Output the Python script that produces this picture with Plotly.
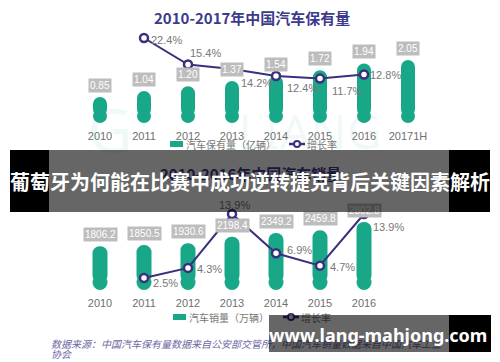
import plotly.graph_objects as go

W, H = 500, 362

# ---------------- data ----------------
years_top = ["2010", "2011", "2012", "2013", "2014", "2015", "2016", "20171H"]
stock = [0.85, 1.04, 1.20, 1.37, 1.54, 1.72, 1.94, 2.05]
stock_labels = ["0.85", "1.04", "1.20", "1.37", "1.54", "1.72", "1.94", "2.05"]
stock_growth_years = ["2011", "2012", "2013", "2014", "2015", "2016"]
stock_growth = [22.4, 15.4, 14.2, 12.4, 11.7, 12.8]

years_bot = ["2010", "2011", "2012", "2013", "2014", "2015", "2016"]
sales = [1806.2, 1850.5, 1930.6, 2198.4, 2349.2, 2459.8, 2802.8]
sales_labels = ["1806.2", "1850.5", "1930.6", "2198.4", "2349.2", "2459.8", "2802.8"]
sales_growth_years = ["2011", "2012", "2013", "2014", "2015", "2016"]
sales_growth = [2.5, 4.3, 13.9, 6.9, 4.7, 13.9]

title_top = "2010-2017年中国汽车保有量"
title_bot = "2010-2016年中国汽车销量"
legend_top = ["汽车保有量（亿辆）", "增长率"]
legend_bot = ["汽车销量（万辆）", "增长率"]
source_line1 = "数据来源：中国汽车保有量数据来自公安部交管所，中国汽车销量数据来自中国汽车工业"
source_line2 = "协会"
banner_text = "葡萄牙为何能在比赛中成功逆转捷克背后关键因素解析"
site_text = "www.lang-mahjong.com"
watermark = ["G", "LIANG"]

# ---------------- style ----------------
GREEN = "#19a887"
PURPLE = "#3b2f80"
LBLBOX = "#bdbdbd"
GRAYTXT = "#777777"
FONT = "Arial, Liberation Sans, Noto Sans CJK SC, sans-serif"
CJK = "Noto Sans CJK SC, sans-serif"


def px(x):
    return x / W


def py(y):
    return 1 - y / H


# top panel geometry (pixels)
T_BASE, T_TOP = 123, 30
T_SCALE = 30.7          # px per unit (bars)
T_GSCALE = 3.795        # px per % (line)
T_BARW = 14
# bottom panel geometry
B_BASE, B_TOP = 290, 205
B_SCALE = 0.02426
B_GSCALE = 5.61
B_GZERO = 292
B_BARW = 15
CAT_PX = 44.0

fig = go.Figure()

# ---- top bars (pill shaped: rounded top via cornerradius + round cap at base) ----
t_b0 = (T_BARW / 2) / T_SCALE
fig.add_trace(go.Bar(
    x=years_top, y=[v - t_b0 for v in stock], base=t_b0,
    width=T_BARW / CAT_PX, marker=dict(color=GREEN, cornerradius=T_BARW / 2, line=dict(width=0)),
    xaxis="x", yaxis="y", showlegend=False, hoverinfo="skip"))
fig.add_trace(go.Scatter(
    x=years_top, y=[t_b0] * len(stock), mode="markers",
    marker=dict(size=T_BARW, color=GREEN, line=dict(width=0)),
    xaxis="x", yaxis="y", showlegend=False, hoverinfo="skip"))
fig.add_trace(go.Scatter(
    x=stock_growth_years, y=stock_growth, mode="lines+markers",
    line=dict(color=PURPLE, width=2),
    marker=dict(size=8, color="white", line=dict(color=PURPLE, width=2.5)),
    xaxis="x", yaxis="y2", showlegend=False, hoverinfo="skip"))

# ---- bottom bars ----
b_b0 = (B_BARW / 2) / B_SCALE
fig.add_trace(go.Bar(
    x=years_bot, y=[v - b_b0 for v in sales], base=b_b0,
    width=B_BARW / CAT_PX, marker=dict(color=GREEN, cornerradius=B_BARW / 2, line=dict(width=0)),
    xaxis="x2", yaxis="y3", showlegend=False, hoverinfo="skip"))
fig.add_trace(go.Scatter(
    x=years_bot, y=[b_b0] * len(sales), mode="markers",
    marker=dict(size=B_BARW, color=GREEN, line=dict(width=0)),
    xaxis="x2", yaxis="y3", showlegend=False, hoverinfo="skip"))
fig.add_trace(go.Scatter(
    x=sales_growth_years, y=sales_growth, mode="lines+markers",
    line=dict(color=PURPLE, width=2),
    marker=dict(size=8, color="white", line=dict(color=PURPLE, width=2.5)),
    xaxis="x2", yaxis="y4", showlegend=False, hoverinfo="skip"))

ann = []
shapes = []

# faint watermark behind the top chart
WM = "rgba(25,168,135,0.07)"
shapes.append(dict(type="rect", xref="paper", yref="paper", layer="below",
                   x0=px(70), x1=px(150), y0=py(160), y1=py(105), line=dict(width=0),
                   label=dict(text=watermark[0], font=dict(family="Noto Sans", size=62, color=WM))))
shapes.append(dict(type="rect", xref="paper", yref="paper", layer="below",
                   x0=px(175), x1=px(445), y0=py(158), y1=py(108), line=dict(width=0),
                   label=dict(text=watermark[1], font=dict(family="Noto Sans", size=48, color=WM))))

# bar value labels (category axes: annotations use category index)
for yr, v, lab in zip(years_top, stock, stock_labels):
    ann.append(dict(x=years_top.index(yr), y=v, xref="x", yref="y", text=lab, showarrow=False,
                    yanchor="bottom", yshift=4, bgcolor=LBLBOX, borderpad=1,
                    font=dict(family=FONT, size=10, color="white")))
for yr, v, lab in zip(years_bot, sales, sales_labels):
    ann.append(dict(x=years_bot.index(yr), y=v, xref="x2", yref="y3", text=lab, showarrow=False,
                    yanchor="bottom", yshift=4, bgcolor=LBLBOX, borderpad=1,
                    font=dict(family=FONT, size=10, color="white")))

# growth labels (placement offsets)
top_off = [("left", 5, -2), ("left", 0, 12), ("left", 7, -14),
           ("left", 9, -12), ("left", 10, -12), ("left", 4, -1)]
for yr, g, (xa, xs, ys) in zip(stock_growth_years, stock_growth, top_off):
    ann.append(dict(x=years_top.index(yr), y=g, xref="x", yref="y2", text=f"{g:.1f}%",
                    showarrow=False, xanchor=xa, yanchor="middle", xshift=xs, yshift=ys,
                    font=dict(family=FONT, size=11, color=GRAYTXT)))
bot_off = [("left", 7, -5), ("left", 7, -1), ("center", 2, 9),
           ("left", 9, 3), ("left", 8, -1), ("left", 7, -13)]
for yr, g, (xa, xs, ys) in zip(sales_growth_years, sales_growth, bot_off):
    ann.append(dict(x=years_bot.index(yr), y=g, xref="x2", yref="y4", text=f"{g:.1f}%",
                    showarrow=False, xanchor=xa, yanchor="middle", xshift=xs, yshift=ys,
                    font=dict(family=FONT, size=11, color=GRAYTXT)))

# titles
ann.append(dict(x=px(252), y=py(17), xref="paper", yref="paper", text=f"<b>{title_top}</b>",
                showarrow=False, xanchor="center", yanchor="middle",
                font=dict(family=CJK, size=15, color="#3d3a8a")))
ann.append(dict(x=px(250), y=py(173), xref="paper", yref="paper", text=f"<b>{title_bot}</b>",
                showarrow=False, xanchor="center", yanchor="middle",
                font=dict(family=CJK, size=15, color="#3d3a8a")))


# manual legends
def legend(y, gx, txt1, lx, txt2):
    shapes.append(dict(type="rect", xref="paper", yref="paper",
                       x0=px(gx), x1=px(gx + 13), y0=py(y + 3), y1=py(y - 3),
                       fillcolor=GREEN, line=dict(width=0)))
    ann.append(dict(x=px(gx + 14), y=py(y), xref="paper", yref="paper", text=txt1,
                    showarrow=False, xanchor="left", yanchor="middle",
                    font=dict(family=CJK, size=10, color=GRAYTXT)))
    shapes.append(dict(type="line", xref="paper", yref="paper",
                       x0=px(lx), x1=px(lx + 16), y0=py(y), y1=py(y),
                       line=dict(color=PURPLE, width=2.5)))
    shapes.append(dict(type="circle", xref="paper", yref="paper",
                       x0=px(lx + 5), x1=px(lx + 11), y0=py(y + 3), y1=py(y - 3),
                       fillcolor="white", line=dict(color=PURPLE, width=2)))
    ann.append(dict(x=px(lx + 16), y=py(y), xref="paper", yref="paper", text=txt2,
                    showarrow=False, xanchor="left", yanchor="middle",
                    font=dict(family=CJK, size=10, color=GRAYTXT)))


legend(144, 170, legend_top[0], 289, legend_top[1])
legend(317, 173, legend_bot[0], 283, legend_bot[1])

# source note (two lines)
for txt, yy in ((source_line1, 343), (source_line2, 353)):
    ann.append(dict(x=px(49), y=py(yy), xref="paper", yref="paper", text=txt,
                    showarrow=False, xanchor="left", yanchor="middle", align="left",
                    font=dict(family=CJK, size=10, color="#6e6aa2", style="italic")))


# banners (as annotations so they sit on top of everything)
def box(x0, x1, y0, y1, color):
    ann.append(dict(x=px(x0), y=py(y0), xref="paper", yref="paper", text=" ",
                    showarrow=False, xanchor="left", yanchor="top",
                    width=x1 - x0, height=y1 - y0, bgcolor=color, borderpad=0,
                    borderwidth=0, font=dict(size=1)))


box(10, 49, 150, 212, "black")
box(49, 449, 150, 212, "rgba(0,0,0,0.6)")
box(449, 490, 150, 212, "black")
ann.append(dict(x=px(250), y=py(181), xref="paper", yref="paper", text=f"<b>{banner_text}</b>",
                showarrow=False, xanchor="center", yanchor="middle",
                font=dict(family=CJK, size=20, color="white")))

box(269, 449, 315, 352, "rgba(0,0,0,0.6)")
box(449, 491, 315, 352, "black")
ann.append(dict(x=px(378), y=py(335), xref="paper", yref="paper", text=f"<b>{site_text}</b>",
                showarrow=False, xanchor="center", yanchor="middle",
                font=dict(family="Noto Sans, DejaVu Sans, sans-serif", size=18, color="white")))

tick_font = dict(family=FONT, size=11, color="#6f6f6f")
fig.update_layout(
    width=W, height=H, margin=dict(l=0, r=0, t=0, b=0),
    paper_bgcolor="white", plot_bgcolor="rgba(0,0,0,0)",
    barmode="overlay", showlegend=False,
    xaxis=dict(domain=[px(78), px(430)], range=[-0.5, 7.5], type="category",
               categoryorder="array", categoryarray=years_top, anchor="y",
               showgrid=False, zeroline=False, showline=False,
               ticks="outside", ticklen=3, tickcolor="rgba(0,0,0,0)", tickfont=tick_font),
    yaxis=dict(domain=[py(T_BASE), py(T_TOP)], range=[0, (T_BASE - T_TOP) / T_SCALE],
               visible=False, anchor="x"),
    yaxis2=dict(overlaying="y", range=[0, (T_BASE - T_TOP) / T_GSCALE], visible=False, anchor="x"),
    xaxis2=dict(domain=[px(78), px(386)], range=[-0.5, 6.5], type="category",
                categoryorder="array", categoryarray=years_bot, anchor="y3",
                showgrid=False, zeroline=False, showline=False,
                ticks="outside", ticklen=3, tickcolor="rgba(0,0,0,0)", tickfont=tick_font),
    yaxis3=dict(domain=[py(B_BASE), py(B_TOP)], range=[0, (B_BASE - B_TOP) / B_SCALE],
                visible=False, anchor="x2"),
    yaxis4=dict(overlaying="y3",
                range=[(B_GZERO - B_BASE) / B_GSCALE, (B_GZERO - B_TOP) / B_GSCALE],
                visible=False, anchor="x2"),
    annotations=ann, shapes=shapes,
)

fig.write_html("out.html", config={"displayModeBar": False},
               post_script="document.body.style.margin='0';document.body.style.overflow='hidden';")
